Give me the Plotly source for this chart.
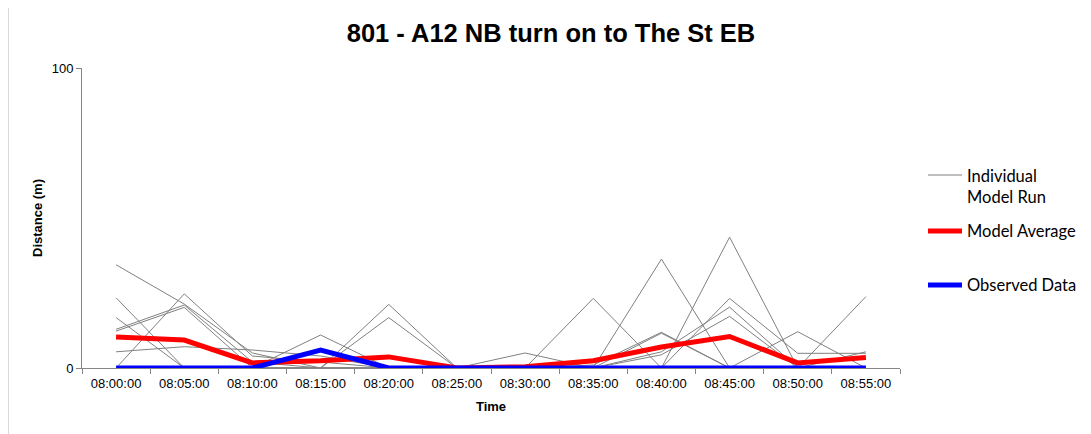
import plotly.graph_objects as go

times = ["08:00:00", "08:05:00", "08:10:00", "08:15:00", "08:20:00", "08:25:00",
         "08:30:00", "08:35:00", "08:40:00", "08:45:00", "08:50:00", "08:55:00"]

# individual model runs (distance in m)
run1 = [34.4, 21.3, 5.0, 0, 0, 0, 0, 0, 36.3, 0, 0, 23.8]
run2 = [23.4, 0, 0, 11.0, 0, 0, 5.0, 0, 0, 43.6, 0, 0]
run3 = [16.8, 0, 0, 0, 21.2, 0, 0, 23.2, 0, 0, 12.1, 0]
run4 = [12.9, 21.0, 2.0, 0, 16.8, 0, 0, 1.0, 11.9, 0, 0, 5.4]
run5 = [12.3, 20.2, 0, 6.0, 0, 0, 0, 0, 0, 23.2, 4.9, 4.9]
run6 = [5.4, 7.1, 6.0, 4.0, 0, 0, 0, 0, 11.6, 0, 0, 0]
run7 = [0, 24.7, 4.0, 2.0, 0, 0, 0, 0, 5.4, 20.3, 0, 0]
run8 = [0, 0, 0, 0, 0, 0, 0, 0, 4.4, 17.2, 0, 0]
run9 = [0, 0, 0, 0, 0, 0, 0, 0, 0, 0, 0, 0]
run10 = [0, 0, 0, 0, 0, 0, 0, 0, 0, 0, 0, 0]
runs = [run1, run2, run3, run4, run5, run6, run7, run8, run9, run10]

model_average = [10.3, 9.3, 1.7, 2.4, 3.7, 0, 0.4, 2.4, 7.0, 10.5, 1.7, 3.5]
observed = [0, 0, 0, 6.0, 0, 0, 0, 0, 0, 0, 0, 0]

GREY = 'rgb(128,128,128)'
RED = '#ff0000'
BLUE = '#0000ff'

fig = go.Figure()

for r in runs:
    fig.add_trace(go.Scatter(x=times, y=r, mode='lines',
                             line=dict(color=GREY, width=1),
                             hoverinfo='none', showlegend=False))

fig.add_trace(go.Scatter(x=times, y=model_average, mode='lines',
                         line=dict(color=RED, width=5), showlegend=False))
fig.add_trace(go.Scatter(x=times, y=observed, mode='lines',
                         line=dict(color=BLUE, width=5), showlegend=False))

# page has an 8px body margin, so figure pixels = page pixels - 8
PL, PT, PW, PH = 74, 60, 818, 300


def px(x):  # figure px -> paper x
    return (x - PL) / PW


def py(y):  # figure px -> paper y
    return (PT + PH - y) / PH


# hand-made legend (Excel style spacing)
legend = [("Individual<br>Model Run", GREY, 1, 167, 178),
          ("Model Average", RED, 5, 223, 223),
          ("Observed Data", BLUE, 5, 277, 277)]
for text, col, w, ly, ty in legend:
    fig.add_shape(type='line', xref='paper', yref='paper',
                  x0=px(920), x1=px(954), y0=py(ly), y1=py(ly),
                  line=dict(color=col, width=w))
    fig.add_annotation(xref='paper', yref='paper', x=px(957), y=py(ty),
                       xanchor='left', yanchor='middle', align='left',
                       text=text, showarrow=False,
                       font=dict(family='Lato, Open Sans', size=16.5, color='black'))

# outer chart border (left edge)
fig.add_shape(type='line', xref='paper', yref='paper',
              x0=px(0.5), x1=px(0.5), y0=py(426), y1=py(0),
              line=dict(color='#d9d9d9', width=1))

fig.update_layout(
    width=1083, height=426,
    margin=dict(l=PL, r=1083 - PL - PW, t=PT, b=426 - PT - PH),
    plot_bgcolor='white',
    paper_bgcolor='white',
    font=dict(family='Liberation Sans, Arial', size=13, color='black'),
    title=dict(text='<b>801 - A12 NB turn on to The St EB</b>',
               x=543 / 1083, xanchor='center', y=1 - 25 / 426, yanchor='middle',
               font=dict(size=25.5, family='Liberation Sans, Arial', color='black')),
    showlegend=False,
    xaxis=dict(type='category', range=[-0.5, 11.5], showline=True,
               linecolor='#868686', linewidth=1, ticks='outside',
               tickson='boundaries', ticklen=5, tickcolor='#868686',
               ticklabelstandoff=3,
               showgrid=False, zeroline=False,
               title=dict(text='<b>Time</b>', font=dict(size=13), standoff=12)),
    yaxis=dict(range=[0, 100], tickvals=[0, 100], showline=True,
               linecolor='#868686', linewidth=1, ticks='outside', ticklen=5,
               tickcolor='#868686', showgrid=False, zeroline=False,
               title=dict(text='<b>Distance (m)</b>', font=dict(size=13), standoff=6)),
)

fig.write_html("out.html")
